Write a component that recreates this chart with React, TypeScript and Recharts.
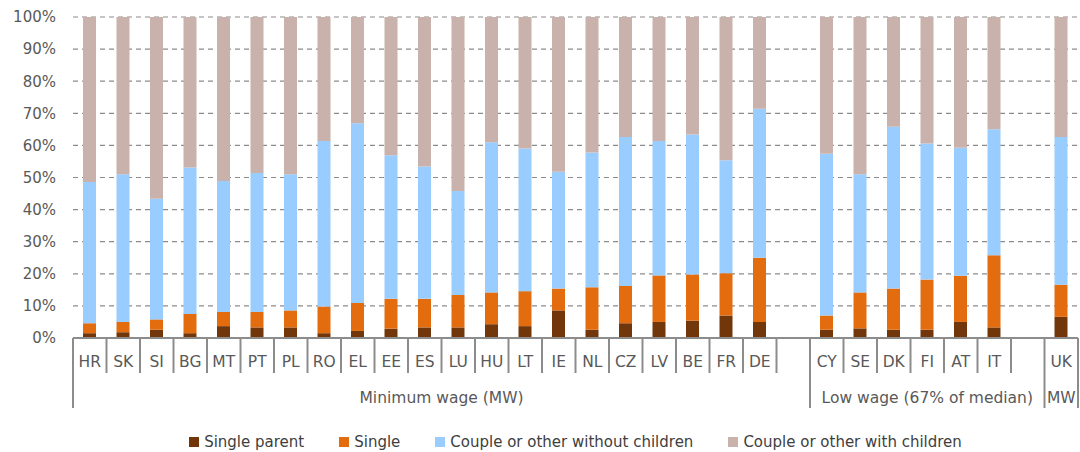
import React from "react";
import {
  BarChart,
  Bar,
  XAxis,
  YAxis,
  CartesianGrid,
  Legend,
} from "recharts";

// categories (empty strings are the spacer slots between groups)
const countries = [
  "HR", "SK", "SI", "BG", "MT", "PT", "PL", "RO", "EL", "EE", "ES", "LU", "HU", "LT",
  "IE", "NL", "CZ", "LV", "BE", "FR", "DE", "", "CY", "SE", "DK", "FI", "AT", "IT", "", "UK",
];

// group labels under the country labels, span = number of slots
const groupLabels = ["Minimum wage (MW)", "Low wage (67% of median)", "MW"];
const groupSpans = [22, 7, 1];

// shares in %
const singleParent = [
  1.5, 1.8, 2.6, 1.5, 3.7, 3.3, 3.3, 1.5, 2.2, 2.9, 3.3, 3.3, 4.3, 3.7,
  8.6, 2.6, 4.6, 5.0, 5.4, 7.0, 5.0, null, 2.6, 3.0, 2.6, 2.6, 5.0, 3.3, null, 6.6,
];
const single = [
  3.1, 3.2, 3.2, 6.0, 4.4, 4.8, 5.3, 8.3, 8.7, 9.3, 8.9, 10.1, 9.9, 10.9,
  6.8, 13.2, 11.6, 14.5, 14.4, 13.2, 20.0, null, 4.4, 11.2, 12.8, 15.6, 14.4, 22.5, null, 10.0,
];
const coupleNoKids = [
  44.0, 46.0, 37.6, 45.6, 40.8, 43.3, 42.4, 51.6, 56.0, 44.7, 41.2, 32.4, 46.8, 44.4,
  36.4, 42.0, 46.4, 41.9, 43.6, 35.2, 46.4, null, 50.4, 36.8, 50.4, 42.4, 39.9, 39.2, null, 46.0,
];
const coupleKids = [
  51.4, 49.0, 56.6, 46.9, 51.1, 48.6, 49.0, 38.6, 33.1, 43.1, 46.6, 54.2, 39.0, 41.0,
  48.2, 42.2, 37.4, 38.6, 36.6, 44.6, 28.6, null, 42.6, 49.0, 34.2, 39.4, 40.7, 35.0, null, 37.4,
];

const yTicks = [0, 10, 20, 30, 40, 50, 60, 70, 80, 90, 100];

const series = [
  { key: "singleParent", name: "Single parent", color: "#72360B" },
  { key: "single", name: "Single", color: "#E36C0F" },
  { key: "coupleNoKids", name: "Couple or other without children", color: "#99CCFF" },
  { key: "coupleKids", name: "Couple or other with children", color: "#CAB2AC" },
];

const data = countries.map((c, i) => ({
  id: i,
  country: c,
  singleParent: singleParent[i],
  single: single[i],
  coupleNoKids: coupleNoKids[i],
  coupleKids: coupleKids[i],
}));

const W = 1080;
const H = 452;
const Y_AXIS_W = 73;
const MARGIN = { top: 17, right: 2, left: 0, bottom: 0 };
const PLOT_W = W - Y_AXIS_W - MARGIN.left - MARGIN.right;
const FONT = "'DejaVu Sans', sans-serif";
const AXIS_GREY = "#8C8C8C";
const TEXT_GREY = "#595959";

// group start index -> group number
const groupStarts: Record<number, number> = {};
{
  let s = 0;
  groupSpans.forEach((span, g) => {
    groupStarts[s] = g;
    s += span;
  });
}

function CountryTick(props: any) {
  const { x, y, index } = props;
  const axisW = typeof props.width === "number" && props.width > 100 ? props.width : PLOT_W;
  const slot = axisW / countries.length;
  const left = x - slot / 2;
  const right = x + slot / 2;
  const g = groupStarts[index];
  const isStart = g !== undefined;
  const isLast = index === countries.length - 1;
  return (
    <g>
      <line
        x1={left}
        x2={left}
        y1={y}
        y2={isStart ? y + 70 : y + 35}
        stroke={AXIS_GREY}
        strokeWidth={2}
      />
      {isLast && (
        <line x1={right} x2={right} y1={y} y2={y + 70} stroke={AXIS_GREY} strokeWidth={2} />
      )}
      <text
        x={x}
        y={y + 29}
        textAnchor="middle"
        fill={TEXT_GREY}
        fontSize={15.5}
        fontFamily={FONT}
      >
        {countries[index]}
      </text>
      {isStart && (
        <text
          x={left + (groupSpans[g] * slot) / 2}
          y={y + 65}
          textAnchor="middle"
          fill={TEXT_GREY}
          fontSize={15.5}
          fontFamily={FONT}
        >
          {groupLabels[g]}
        </text>
      )}
    </g>
  );
}

function LegendBox() {
  return (
    <div
      style={{
        display: "flex",
        justifyContent: "center",
        alignItems: "center",
        gap: 35,
        fontFamily: FONT,
        fontSize: 15,
        color: "#404040",
        height: 26,
        paddingTop: 3,
      }}
    >
      {series.map((s) => (
        <div key={s.key} style={{ display: "flex", alignItems: "center" }}>
          <span
            style={{
              display: "inline-block",
              width: 10,
              height: 10,
              background: s.color,
              marginRight: 5,
            }}
          />
          <span>{s.name}</span>
        </div>
      ))}
    </div>
  );
}

export default function App() {
  return (
    <div style={{ position: "absolute", left: 0, top: 0, width: W, height: H, background: "#fff" }}>
      <BarChart width={W} height={H} data={data} margin={MARGIN} barSize={13}>
        <CartesianGrid
          vertical={false}
          stroke={AXIS_GREY}
          strokeDasharray="5 4"
          strokeWidth={1.2}
        />
        <XAxis
          dataKey="id"
          type="category"
          interval={0}
          tick={<CountryTick />}
          tickLine={false}
          tickSize={0}
          tickMargin={0}
          height={88}
          axisLine={{ stroke: AXIS_GREY, strokeWidth: 2 }}
        />
        <YAxis
          domain={[0, 100]}
          ticks={yTicks}
          tickFormatter={(v) => `${v}%`}
          width={Y_AXIS_W}
          axisLine={false}
          tickLine={false}
          tickSize={0}
          tickMargin={17}
          tick={{ fill: TEXT_GREY, fontSize: 15, fontFamily: FONT }}
        />
        <Legend
          verticalAlign="bottom"
          height={26}
          content={<LegendBox />}
          wrapperStyle={{ left: Y_AXIS_W, width: PLOT_W }}
        />
        {series.map((s) => (
          <Bar
            key={s.key}
            dataKey={s.key}
            name={s.name}
            stackId="a"
            fill={s.color}
            isAnimationActive={false}
          />
        ))}
      </BarChart>
    </div>
  );
}
